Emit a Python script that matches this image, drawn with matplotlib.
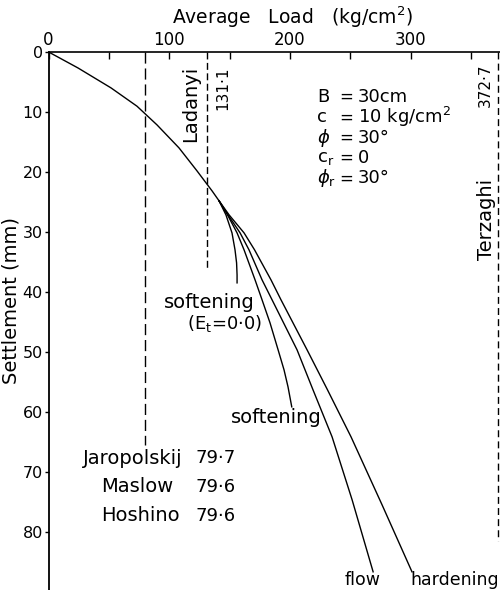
import matplotlib.pyplot as plt
from matplotlib.ticker import MultipleLocator

# common part of the load-settlement curve (load kg/cm2, settlement mm)
trunk_load   = [0, 24.4, 51.8, 73.3, 89.9, 108.1, 123.0, 135.5, 141.3]
trunk_settle = [0, 2.67, 6.0, 9.05, 12.17, 16.0, 19.83, 23.17, 24.83]

# branches after yielding
soft0_load   = [141.3, 147.0, 152.0, 154.5, 155.8, 156.2, 156.2]
soft0_settle = [24.83, 27.17, 30.17, 33.0, 35.17, 37.17, 38.5]

soft_load    = [141.3, 148.3, 156.2, 162.0, 171.1, 176.9, 183.5, 190.2, 195.1, 198.4, 201.5]
soft_settle  = [24.83, 27.17, 30.17, 33.0, 38.0, 41.33, 45.17, 49.67, 53.0, 55.83, 59.17]

flow_load    = [141.3, 148.7, 158.7, 166.1, 176.9, 185.2, 205.9, 219.1, 234.9, 251.5, 268.9]
flow_settle  = [24.83, 27.17, 30.17, 33.0, 38.0, 41.33, 49.67, 56.33, 64.17, 74.67, 86.67]

hard_load    = [141.3, 149.6, 162.0, 170.7, 184.3, 192.6, 214.2, 231.1, 250.6, 276.3, 301.1]
hard_settle  = [24.83, 27.17, 30.17, 33.0, 38.0, 41.33, 49.67, 56.33, 64.17, 75.5, 86.67]

# ultimate loads from the classical formulas
ladanyi     = 131.1
terzaghi    = 372.7
jaropolskij = 79.7
maslow      = 79.6
hoshino     = 79.6

params = [('B', '30cm'), ('c', '10 kg/cm$^2$'), ('$\\phi$', '30°'),
          ('c$_\\mathrm{r}$', '0'), ('$\\phi_\\mathrm{r}$', '30°')]

plt.rcParams['font.family'] = 'DejaVu Sans'

fig = plt.figure(figsize=(5.0, 5.9), dpi=100)
ax = fig.add_axes([0.097, 0.0, 0.903, 0.912])

lw = 1.0
ax.plot(trunk_load, trunk_settle, color='k', lw=lw)
for xs, ys in [(soft0_load, soft0_settle), (soft_load, soft_settle),
               (flow_load, flow_settle), (hard_load, hard_settle)]:
    ax.plot(xs, ys, color='k', lw=lw)

# dashed limits
ax.plot([jaropolskij, jaropolskij], [0, 65.5], color='k', lw=1.0, dashes=(8, 3.5))
ax.plot([ladanyi, ladanyi], [0, 36.3], color='k', lw=1.0, dashes=(5, 2.5))
ax.plot([terzaghi, terzaghi], [0, 81.5], color='k', lw=1.0, dashes=(5, 3))

ax.set_xlim(0, 374)
ax.set_ylim(89.7, 0)

for s in ['right', 'bottom']:
    ax.spines[s].set_visible(False)
ax.spines['left'].set_linewidth(1.3)
ax.spines['top'].set_linewidth(1.2)

ax.xaxis.tick_top()
ax.xaxis.set_minor_locator(MultipleLocator(50))
ax.set_xticks([0, 100, 200, 300])
ax.tick_params(axis='x', which='both', direction='in', length=5, width=1,
               labelsize=12, pad=2)
ax.set_yticks(range(0, 90, 10))
ax.tick_params(axis='y', direction='out', length=3, width=1, labelsize=11.5, pad=1)

fig.text(0.584, 1 - 17 / 590, 'Average   Load   (kg/cm$^2$)', ha='center',
         va='center', fontsize=13.5)
fig.text(11 / 500, 1 - 300 / 590, 'Settlement (mm)', rotation=90,
         ha='center', va='center', fontsize=14)

# labels for the limits
ax.text(118, 8.7, 'Ladanyi', rotation=90, ha='center', va='center', fontsize=14)
ax.text(144, 6.0, f'{ladanyi}'.replace('.', '·'), rotation=90, ha='center',
        va='center', fontsize=11)
ax.text(362, 5.5, f'{terzaghi}'.replace('.', '·'), rotation=90, ha='center',
        va='center', fontsize=11)
ax.text(363, 28.0, 'Terzaghi', rotation=90, ha='center', va='center', fontsize=14)

rows = [('Jaropolskij', jaropolskij, 28.5), ('Maslow', maslow, 44.0),
        ('Hoshino', hoshino, 44.0)]
for i, (name, val, x0) in enumerate(rows):
    y = 67.7 + i * 4.8
    ax.text(x0, y, name, ha='left', va='center', fontsize=14)
    ax.text(122, y, f'{val}'.replace('.', '·'), ha='left', va='center', fontsize=13)

# material parameters
for i, (sym, val) in enumerate(params):
    y = 7.5 + i * 3.4
    ax.text(222.5, y, sym, ha='left', va='center', fontsize=13)
    ax.text(241, y, '=', ha='left', va='center', fontsize=12)
    ax.text(256, y, val, ha='left', va='center', fontsize=13)

# curve names
ax.text(96, 41.7, 'softening', ha='left', va='center', fontsize=14)
ax.text(115, 45.2, '(E$_\\mathrm{t}$=0·0)', ha='left', va='center', fontsize=13)
ax.text(151, 61.0, 'softening', ha='left', va='center', fontsize=14)
ax.text(245, 88.0, 'flow', ha='left', va='center', fontsize=12.5)
ax.text(300, 88.0, 'hardening', ha='left', va='center', fontsize=12.5)

fig.savefig('out.png', dpi=100)
